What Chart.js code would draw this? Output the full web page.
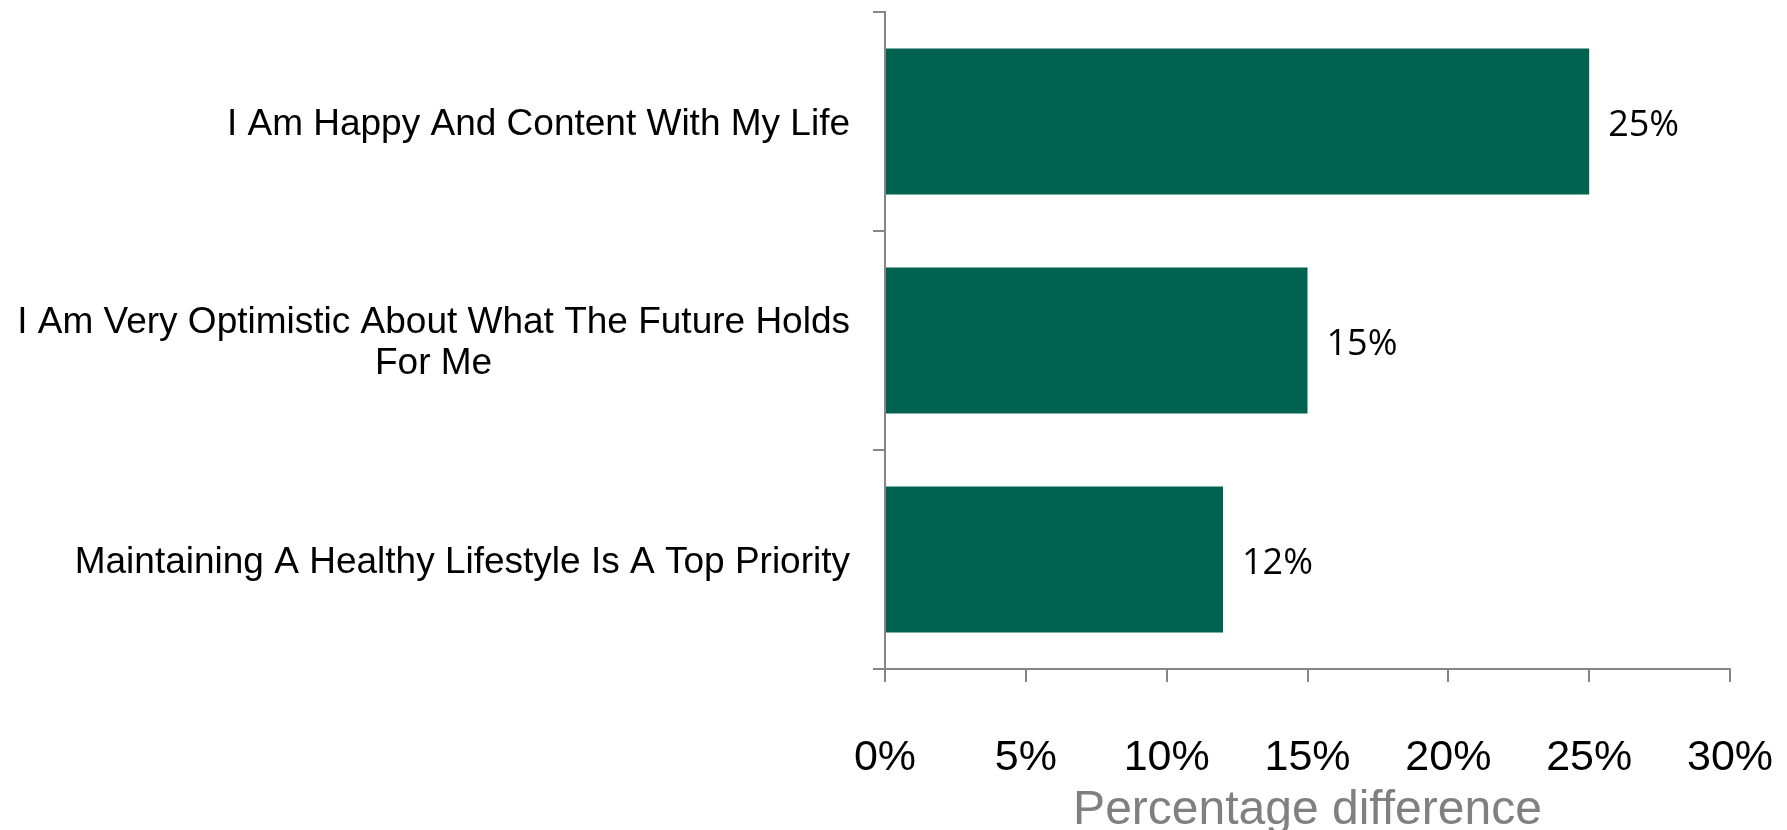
<!DOCTYPE html>
<html>
<head>
<meta charset="utf-8">
<title>Percentage difference</title>
<script src="https://cdn.jsdelivr.net/npm/chart.js@4"></script>
<style>
    html, body { margin: 0; padding: 0; background: #ffffff; }
    canvas { display: block; }
</style>
</head>
<body>
<canvas id="diffChart" width="1787" height="830"></canvas>
<script>
// categories (multi-line entries are arrays) and their values in %
const statements = [
    'I Am Happy And Content With My Life',
    ['I Am Very Optimistic About What The Future Holds', 'For Me'],
    'Maintaining A Healthy Lifestyle Is A Top Priority'
];
const differences = [25, 15, 12];
const xTicks = [0, 5, 10, 15, 20, 25, 30];

const axisGrey = '#868686';
const barGreen = '#006251';

// category labels: block right-aligned at the axis, lines centred inside the block
const categoryLabels = {
    id: 'categoryLabels',
    afterDraw(chart) {
        const yScale = chart.scales.y;
        const ctx = chart.ctx;
        const lineHeight = 41;
        ctx.save();
        ctx.font = '37px "Liberation Sans", Arial, sans-serif';
        ctx.fillStyle = '#000000';
        ctx.textAlign = 'center';
        ctx.textBaseline = 'middle';
        const right = yScale.right - 35;
        chart.data.labels.forEach(function(label, i) {
            const lines = Array.isArray(label) ? label : [label];
            const widest = Math.max(...lines.map(l => ctx.measureText(l).width));
            const cx = right - widest / 2;
            const yMid = yScale.getPixelForValue(i) + 3;
            const y0 = yMid - (lines.length - 1) * lineHeight / 2;
            lines.forEach(function(line, j) {
                ctx.fillText(line, cx, y0 + j * lineHeight);
            });
        });
        ctx.restore();
    }
};

// value labels to the right of each bar
const valueLabels = {
    id: 'valueLabels',
    afterDatasetsDraw(chart) {
        const ctx = chart.ctx;
        const meta = chart.getDatasetMeta(0);
        ctx.save();
        ctx.font = '36px "Open Sans", sans-serif';
        ctx.fillStyle = '#000000';
        ctx.textAlign = 'left';
        ctx.textBaseline = 'middle';
        meta.data.forEach(function(bar, i) {
            ctx.fillText(chart.data.datasets[0].data[i] + '%', bar.x + 19, bar.y + 4);
        });
        ctx.restore();
    }
};

new Chart(document.getElementById('diffChart'), {
    type: 'bar',
    data: {
        labels: statements,
        datasets: [{
            data: differences,
            backgroundColor: barGreen,
            borderWidth: 0,
            barPercentage: 0.667,
            categoryPercentage: 1
        }]
    },
    plugins: [categoryLabels, valueLabels],
    options: {
        indexAxis: 'y',
        responsive: false,
        animation: false,
        layout: { padding: { top: 12, right: 57, bottom: 0, left: 0 } },
        plugins: {
            legend: { display: false },
            tooltip: { enabled: false }
        },
        scales: {
            y: {
                afterFit(scale) { scale.width = 885; },
                ticks: { display: false },
                grid: {
                    display: true,
                    offset: true,
                    drawOnChartArea: false,
                    tickLength: 12,
                    color: axisGrey,
                    lineWidth: 2
                },
                border: { display: true, color: axisGrey, width: 2 }
            },
            x: {
                min: xTicks[0],
                max: xTicks[xTicks.length - 1],
                afterFit(scale) {
                    // fixed band height; the outer layout padding covers the end labels
                    scale.height = 161;
                    scale.paddingLeft = 0;
                    scale.paddingRight = 0;
                },
                afterBuildTicks(scale) {
                    scale.ticks = xTicks.map(v => ({ value: v }));
                },
                ticks: {
                    padding: 50,
                    color: '#000000',
                    font: { family: '"Liberation Sans", Arial, sans-serif', size: 43 },
                    callback: v => v + '%'
                },
                grid: {
                    display: true,
                    drawOnChartArea: false,
                    tickLength: 13,
                    color: axisGrey,
                    lineWidth: 2
                },
                border: { display: true, color: axisGrey, width: 2 },
                title: {
                    display: true,
                    text: 'Percentage difference',
                    color: '#808080',
                    font: { family: '"Liberation Sans", Arial, sans-serif', size: 48, lineHeight: 0.82 },
                    padding: { top: 0, bottom: 0 }
                }
            }
        }
    }
});
</script>
</body>
</html>
